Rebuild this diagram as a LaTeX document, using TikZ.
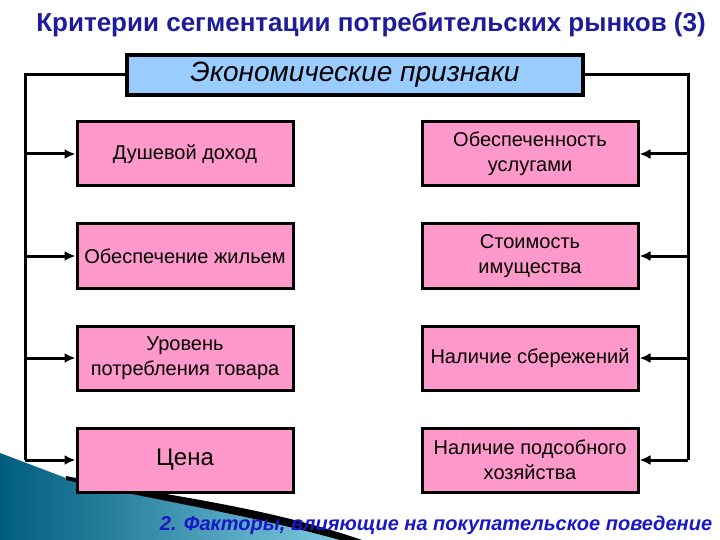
\documentclass[tikz,border=0pt]{standalone}
\usepackage{fontspec}
\setmainfont{Liberation Sans}
\usetikzlibrary{arrows.meta}
\definecolor{critpink}{RGB}{255,153,204}
\definecolor{headblue}{RGB}{153,204,255}
\definecolor{titleblue}{RGB}{28,28,156}
\definecolor{footblue}{RGB}{24,24,200}
\definecolor{tealdark}{RGB}{0,92,125}
\definecolor{teallight}{RGB}{130,205,228}

\begin{document}
\begin{tikzpicture}[x=1pt,y=-1pt,>={Latex[length=11pt,width=10pt]},
  crit/.style={draw=black,line width=3pt,fill=critpink,minimum width=216pt,minimum height=64pt,align=center,font=\fontsize{20}{25}\selectfont,inner sep=2pt},
  head/.style={draw=black,line width=4pt,fill=headblue,minimum width=456pt,minimum height=40pt,font=\itshape\fontsize{28}{32}\selectfont,inner sep=0pt},
  bus/.style={line width=3pt}]
\useasboundingbox (0,0) rectangle (720,540);
% slide decoration, bottom left
\shade[left color=tealdark,right color=teallight] (0,453) -- (66,478) .. controls (160,497) and (260,507) .. (352,540) -- (0,540) -- cycle;
\fill[black] (66,476) .. controls (160,495) and (260,505) .. (362,540) -- (340,540) .. controls (250,515) and (160,501) .. (66,480) -- cycle;
\node[font=\bfseries\fontsize{26}{30}\selectfont,text=titleblue] (title) at (371,25) {Критерии сегментации потребительских рынков (3)};
\node[head] (hdr) at (355,75) {Экономические признаки};
% left column
\node[crit] (l1) at (185,154) {Душевой доход};
\node[crit] (l2) at (185,256) {Обеспечение жильем};
\node[crit] (l3) at (185,358) {Уровень\\потребления товара};
\node[crit,font=\fontsize{24}{28}\selectfont] (l4) at (185,460) {Цена};
% right column
\node[crit] (r1) at (530,154) {Обеспеченность\\услугами};
\node[crit] (r2) at (530,256) {Стоимость\\имущества};
\node[crit] (r3) at (530,358) {Наличие сбережений};
\node[crit] (r4) at (530,460) {Наличие подсобного\\хозяйства};
\coordinate (lbus) at (25,75);
\coordinate (rbus) at (688,75);
\draw[bus] (hdr.west) -- (lbus) -- (lbus |- l4);
\draw[bus] (hdr.east) -- (rbus) -- (rbus |- r4);
\foreach \n in {l1,l2,l3,l4} \draw[bus,->] (lbus |- \n) -- (\n.west);
\foreach \n in {r1,r2,r3,r4} \draw[bus,->] (rbus |- \n) -- (\n.east);
\node[font=\bfseries\itshape\fontsize{20}{24}\selectfont,text=footblue] (foot) at (436,525) {2. Факторы, влияющие на покупательское поведение};
\end{tikzpicture}
\end{document}
